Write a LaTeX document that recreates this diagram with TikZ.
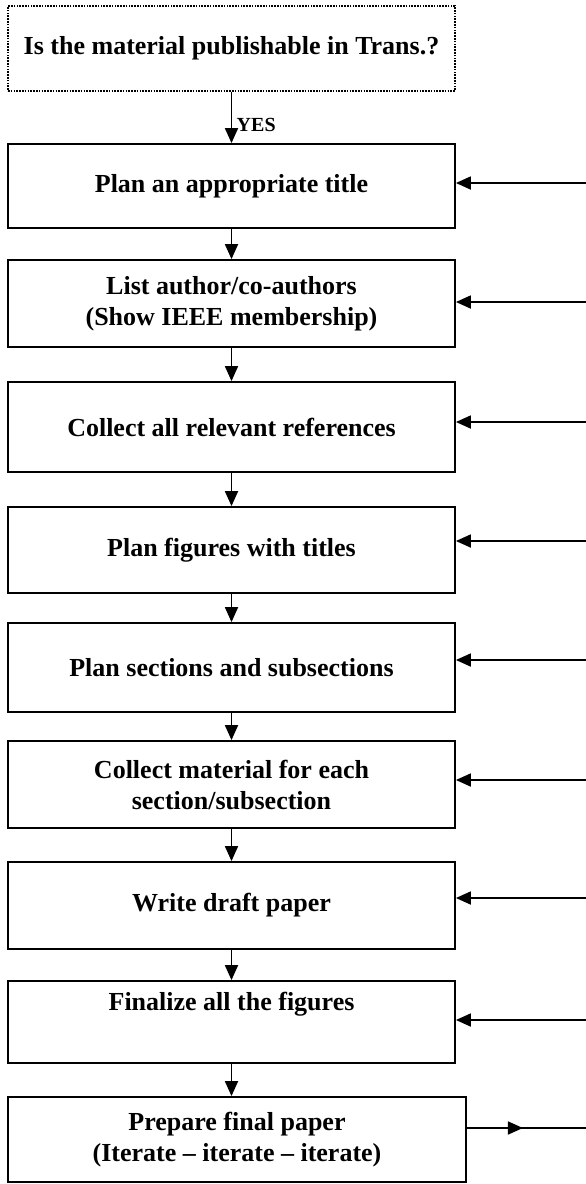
\documentclass[tikz,border=0pt]{standalone}
\usepackage{fontspec}
\setmainfont{Liberation Serif}
\usepackage{tikz}
\usetikzlibrary{arrows.meta}

\begin{document}
\begin{tikzpicture}[x=1pt,y=-1pt,
  stepbox/.style={draw,line width=1.8pt,minimum width=447pt,inner sep=0pt,align=center,font=\fontsize{26}{31}\selectfont\bfseries},
  flow/.style={line width=1.8pt,-{Triangle[length=15pt,width=13pt]}},
  plain/.style={line width=1.8pt}]
\useasboundingbox (0,0) rectangle (586,1184);
\node[stepbox,line width=1.5pt,dash pattern=on 1.6pt off 1.2pt,minimum height=85pt] (trans) at (231.5,48.5) {Is the material publishable in Trans.?};
\node[stepbox,minimum height=84pt] (title) at (231.5,186) {Plan an appropriate title};
\node[stepbox,minimum height=87pt] (authors) at (231.5,303.5) {List author/co-authors\\(Show IEEE membership)};
\node[stepbox,minimum height=90pt] (refs) at (231.5,427) {Collect all relevant references};
\node[stepbox,minimum height=86pt] (figs) at (231.5,550) {Plan figures with titles};
\node[stepbox,minimum height=89pt] (sects) at (231.5,667.5) {Plan sections and subsections};
\node[stepbox,minimum height=87pt] (material) at (231.5,784.5) {Collect material for each\\section/subsection};
\node[stepbox,minimum height=87pt] (draft) at (231.5,905.5) {Write draft paper};
\node[stepbox,minimum height=82pt] (finfigs) at (231.5,1022) {Finalize all the figures\\[2pt]\strut};
\node[stepbox,minimum height=85pt,minimum width=458pt] (final) at (237,1139.5) {Prepare final paper\\(Iterate -- iterate -- iterate)};
\draw[flow] (trans) -- (title) node[pos=0.64,right=1pt,font=\fontsize{20}{24}\selectfont\bfseries]{YES};
\foreach \a/\b in {title/authors,authors/refs,refs/figs,figs/sects,sects/material,material/draft,draft/finfigs}
  \draw[flow] (\a) -- (\b);
\draw[flow] (finfigs.south) -- (finfigs.south |- final.north);
\foreach \n/\y in {title/183,authors/302,refs/422,figs/541,sects/660,material/780,draft/898,finfigs/1020} {
  \coordinate (in-\n) at (586,\y);
  \draw[flow] (in-\n) -- (in-\n -| \n.east);
}
\coordinate (out) at (586,1128);
\draw[plain] (out -| final.east) -- (out);
\draw[flow] (out -| final.east) -- ++(56,0);
\end{tikzpicture}
\end{document}
